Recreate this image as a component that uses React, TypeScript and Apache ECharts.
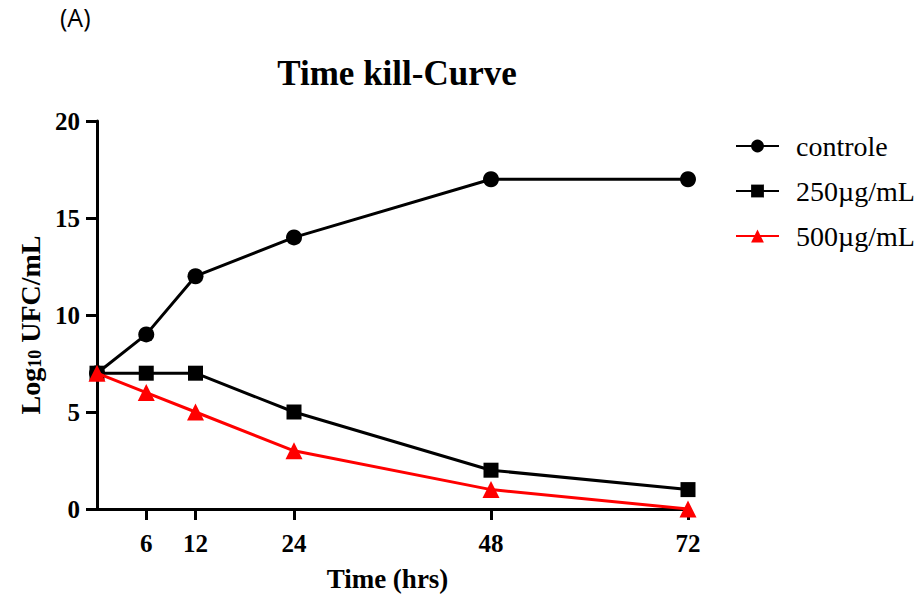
import React, { useEffect, useRef } from "react";
import * as echarts from "echarts";

const timePoints = [0, 6, 12, 24, 48, 72];
const tickHours = [6, 12, 24, 48, 72];
const controle = [7, 9, 12, 14, 17, 17];
const dose250 = [7, 7, 7, 5, 2, 1];
const dose500 = [7, 6, 5, 3, 1, 0];
const seriesNames = ["controle", "250µg/mL", "500µg/mL"];

const serif = "'Liberation Serif', 'Times New Roman', serif";

export default function App() {
  const ref = useRef<HTMLDivElement>(null);
  useEffect(() => {
    if (!ref.current) return;
    const chart = echarts.init(ref.current, null, { renderer: "svg" });
    const mk = (vals: number[]) => timePoints.map((t, i) => [t, vals[i]]);
    chart.setOption({
      animation: false,
      title: {
        text: "Time kill-Curve",
        left: 392,
        top: 51,
        textAlign: "center",
        textStyle: { fontFamily: serif, fontWeight: "bold", fontSize: 35, color: "#000" },
      },
      graphic: [
        {
          type: "text",
          left: 60,
          top: 4,
          style: { text: "(A)", fontFamily: "'Open Sans', sans-serif", fontSize: 25, fill: "#000" },
        },
      ],
      legend: {
        orient: "vertical",
        left: 730,
        top: 127,
        itemWidth: 43,
        itemHeight: 16,
        itemGap: 17,
        textStyle: { fontFamily: serif, fontSize: 28, color: "#000", padding: [0, 0, 0, 12] },
        data: seriesNames,
      },
      grid: { left: 97, right: 227, top: 121, bottom: 86, containLabel: false },
      xAxis: {
        type: "value",
        min: 0,
        max: 72,
        name: "Time (hrs)",
        nameLocation: "middle",
        nameGap: 56,
        nameTextStyle: { fontFamily: serif, fontWeight: "bold", fontSize: 27, color: "#000", padding: [0, 10, 0, 0] },
        splitLine: { show: false },
        axisLine: { lineStyle: { color: "#000", width: 3 } },
        axisTick: { customValues: tickHours, length: 11, lineStyle: { color: "#000", width: 3 } },
        axisLabel: {
          customValues: tickHours,
          margin: 22,
          fontFamily: serif,
          fontWeight: "bold",
          fontSize: 25,
          color: "#000",
        },
      },
      yAxis: {
        type: "value",
        min: 0,
        max: 20,
        interval: 5,
        name: "{b|Log}{s|10}{b| UFC/mL}",
        nameLocation: "middle",
        nameGap: 53,
        nameTextStyle: {
          color: "#000",
          padding: [0, 20, 0, 0],
          rich: {
            b: { fontFamily: serif, fontWeight: "bold", fontSize: 28, color: "#000" },
            s: { fontFamily: serif, fontWeight: "bold", fontSize: 18, color: "#000", verticalAlign: "bottom", padding: [10, 0, 0, 0] },
          },
        },
        splitLine: { show: false },
        axisLine: { show: true, lineStyle: { color: "#000", width: 3 } },
        axisTick: { show: true, length: 11, lineStyle: { color: "#000", width: 3 } },
        axisLabel: { margin: 17, fontFamily: serif, fontWeight: "bold", fontSize: 25, color: "#000" },
      },
      series: [
        {
          name: seriesNames[0],
          type: "line",
          data: mk(controle),
          symbol: "circle",
          symbolSize: 16,
          lineStyle: { color: "#000", width: 3 },
          itemStyle: { color: "#000" },
          z: 3,
        },
        {
          name: seriesNames[1],
          type: "line",
          data: mk(dose250),
          symbol: "rect",
          symbolSize: 15,
          lineStyle: { color: "#000", width: 3 },
          itemStyle: { color: "#000" },
          z: 4,
        },
        {
          name: seriesNames[2],
          type: "line",
          data: mk(dose500),
          symbol: "triangle",
          symbolSize: 17,
          lineStyle: { color: "#ff0000", width: 3 },
          itemStyle: { color: "#ff0000" },
          z: 5,
        },
      ],
    });
    return () => chart.dispose();
  }, []);
  return <div ref={ref} style={{ width: 915, height: 597, position: "absolute", left: 0, top: 0 }} />;
}
